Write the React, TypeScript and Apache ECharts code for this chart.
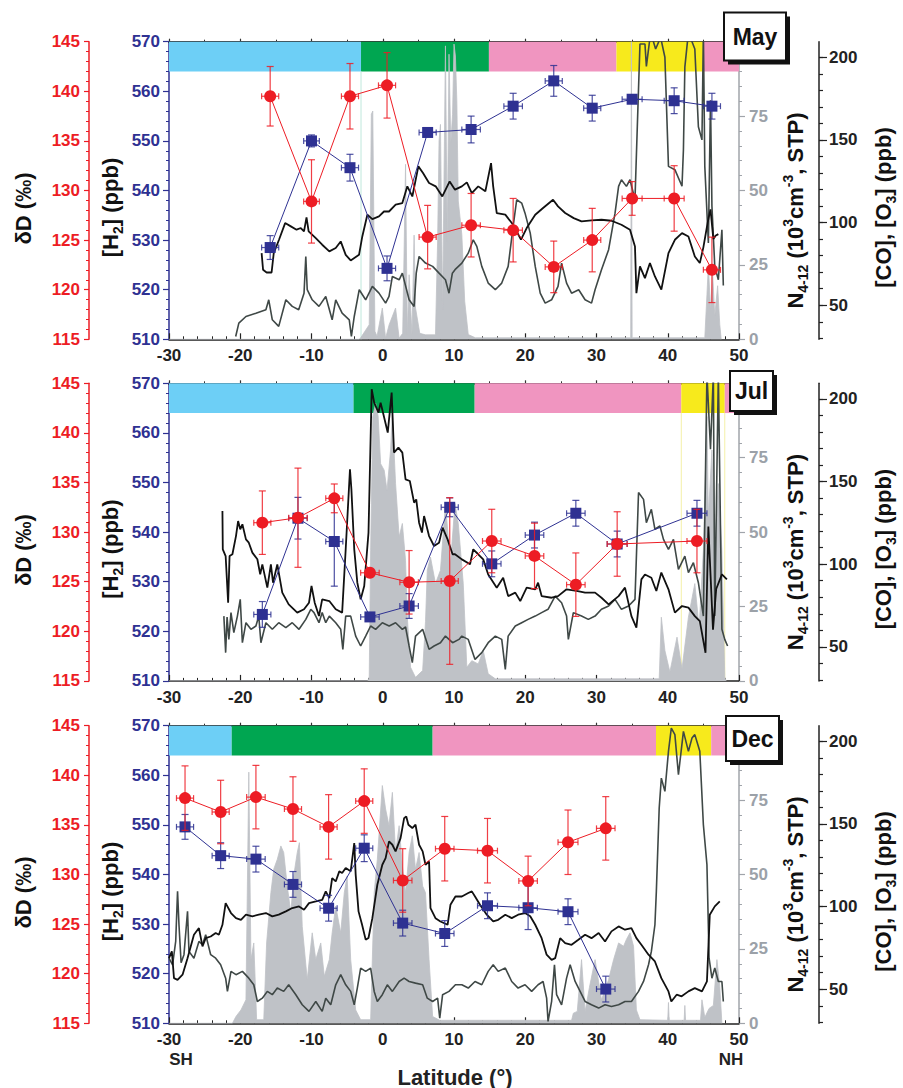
import React, { useEffect, useRef } from "react";
import * as echarts from "echarts";

const FONT = '"Liberation Sans", Arial, Helvetica, sans-serif';
const RED = "#ed1c24";
const BLUE = "#2e3192";
const NGREY = "#bfc2c7";
const O3C = "#3f4846";
const GREYLBL = "#9ba1a8";
const CYAN = "#6dcff6";
const GREEN = "#00a651";
const PINK = "#f095c0";
const YELLOW = "#f7ea1c";

// ================= MAY =================
const mayLat = [-15.8, -10.0, -4.6, 0.6, 6.3, 12.4, 18.3, 24.0, 29.4, 35.0, 40.9, 46.2];
const mayLatErr = [1.2, 1.1, 1.2, 1.2, 1.2, 1.3, 1.3, 1.2, 1.2, 1.4, 1.4, 1.2];
const mayDD = [139.5, 128.9, 139.5, 140.6, 125.3, 126.5, 126.0, 122.3, 125.0, 129.2, 129.2, 122.0];
const mayDDErr = [3.0, 4.2, 3.3, 3.3, 3.2, 3.2, 3.2, 2.6, 3.2, 1.7, 3.3, 3.3];
const mayH2 = [528.5, 550.0, 544.6, 524.3, 551.7, 552.3, 557.0, 562.1, 556.6, 558.4, 558.1, 557.0];
const mayH2Err = [2.4, 1.2, 2.7, 2.5, 0.5, 2.7, 2.6, 3.1, 2.6, 0.5, 2.6, 2.6];
const mayCO = [[-17.0,81.5],[-16.8,71.5],[-16.3,69.8],[-15.6,69.8],[-15.3,81.5],[-14.56,89.6],[-13.7,99.7],[-12.9,97.7],[-12.1,95.7],[-11.5,96.7],[-11.05,94.7],[-10.7,103.1],[-10.4,94.7],[-9.4,90.6],[-8.5,86.6],[-7.5,82.6],[-6.6,84.6],[-5.9,88.6],[-5.2,80.5],[-4.5,77.1],[-3.33,80.5],[-2.87,91.6],[-2.16,104.7],[-1.46,102.1],[-0.53,103.7],[0.17,106.7],[0.88,106.7],[1.81,110.8],[2.75,111.8],[3.45,121.9],[4.15,115.8],[5.0,134.0],[5.65,130.0],[6.5,123.9],[7.43,121.9],[8.36,115.8],[9.39,124.9],[10.14,119.9],[11.1,121.9],[11.8,124.3],[12.5,117.8],[13.4,121.9],[14.4,118.9],[15.2,136.0],[15.5,121.9],[16.0,105.7],[17.2,104.8],[18.3,98.7],[19.4,89.7],[20.2,96.7],[21.4,104.7],[22.5,108.8],[23.9,113.8],[24.6,109.8],[25.6,105.8],[26.8,102.7],[27.9,100.7],[29.3,101.3],[30.7,101.7],[32.1,101.1],[33.5,98.7],[34.7,95.7],[35.4,85.6],[35.6,57.3],[36.1,73.5],[36.8,66.4],[37.5,75.5],[38.2,67.4],[39.1,59.4],[40.1,81.5],[41.0,89.6],[42.0,93.6],[42.9,91.6],[43.8,79.5],[44.5,75.5],[45.0,85.0],[45.6,100],[46.0,108],[46.4,90],[46.7,92],[47.1,93]];
const mayO3 = [[-20.64,31.1],[-20.2,39.2],[-19.2,43.2],[-17.8,45.2],[-16.4,47.3],[-16.0,53.3],[-15.5,41.2],[-14.6,37.2],[-13.6,53.3],[-12.7,49.3],[-11.8,47.3],[-11.05,57.3],[-10.8,79.5],[-10.6,59.4],[-9.9,53.3],[-8.95,49.3],[-8.0,55.3],[-7.1,41.2],[-6.6,53.3],[-5.7,45.2],[-4.7,41.2],[-4.4,31.1],[-4.0,43.2],[-3.3,59.4],[-2.4,53.3],[-1.46,61.4],[-0.53,57.3],[0.4,51.3],[0.88,55.3],[1.35,67.4],[2.3,65.4],[2.75,69.4],[3.7,53.3],[4.4,49.3],[4.7,69.4],[5.1,79.5],[6.0,75.5],[7.0,73.5],[7.9,69.4],[8.8,65.4],[9.3,57.3],[9.77,69.4],[10.14,71.5],[11.1,75.5],[12.0,81.5],[12.7,89.6],[13.2,85.6],[13.9,73.5],[14.8,63.4],[15.8,59.4],[16.7,63.4],[17.6,73.5],[18.3,97.7],[18.8,113.8],[19.5,111.8],[19.97,105.7],[20.7,93.6],[21.4,73.5],[22.1,57.3],[22.8,51.3],[23.7,53.3],[24.6,61.4],[25.1,75.5],[25.8,63.4],[26.5,57.3],[27.5,59.4],[28.4,53.3],[29.3,51.3],[29.8,59.4],[30.7,71.5],[31.7,83.6],[32.6,105.7],[33.1,121.9],[33.5,125.9],[34.2,121.9],[34.7,125.9],[35.4,113.8],[36.1,208],[36.8,208],[37.0,194.5],[37.6,215],[38.3,205],[39.0,212],[39.6,200],[40.1,134],[41.0,132],[42.0,122],[42.2,144],[42.4,194],[42.9,215],[43.8,205],[44.3,158],[44.8,150],[45.0,215],[45.2,134],[45.7,87.6],[46.0,174],[46.2,110],[46.6,73.5],[47.1,65.4],[47.6,95.7],[47.8,62]];
const mayN = [[-30,0],[-3.3,0],[-3.1,0.5],[-1.9,4.9],[-1.6,75.6],[-1.4,76.7],[-1.1,2.7],[-0.8,1],[-0.06,10.5],[0.4,0.4],[0.9,4.9],[1.8,10.5],[2.3,0.4],[2.8,2],[3.2,58.8],[3.45,1.5],[3.7,21.7],[4.1,1.5],[4.4,35],[4.6,10.5],[5.2,2],[6,1.5],[7.4,1.5],[7.7,33],[7.9,66.6],[8.1,72.2],[8.4,10],[8.8,98.6],[9.05,33],[9.3,95.8],[9.55,66],[9.8,75.6],[10.0,99.2],[10.2,95.2],[10.4,80],[10.6,46.5],[11.1,35.2],[11.5,12.8],[12.0,1.6],[13,0.5],[34.8,0.5],[34.9,100],[35.0,0.5],[45.2,0.5],[45.5,15],[45.7,25],[46.0,10],[46.3,22],[46.6,8],[47.0,18],[47.3,5],[47.5,0]];
const mayZoneFrom = [-30, -3.05, 14.9, 32.8, 45.0];
const mayZoneTo = [-3.05, 14.9, 32.8, 45.0, 50];
const mayZoneColor = [CYAN, GREEN, PINK, YELLOW, PINK];
const mayGuides = [-3.05];

// ================= JUL =================
const julLat = [-16.9, -11.9, -6.8, -1.8, 3.7, 9.4, 15.3, 21.3, 27.1, 32.9, 44.1];
const julLatErr = [1.2, 1.3, 1.2, 1.3, 1.3, 1.2, 1.3, 1.3, 1.3, 1.4, 1.4];
const julDD = [130.95, 131.45, 133.4, 125.9, 124.94, 125.07, 129.1, 127.6, 124.7, 128.8, 129.1];
const julDDErr = [3.2, 5.0, 1.45, 0, 3.2, 8.4, 3.2, 3.3, 3.2, 3.25, 3.2];
const julH2 = [523.4, 542.8, 538.1, 522.9, 525.1, 545.0, 533.6, 539.4, 543.8, 537.6, 543.8];
const julH2Err = [2.6, 4.2, 9.0, 0.3, 2.5, 1.9, 2.6, 2.6, 2.6, 2.6, 2.6];
const julCO = [[-22.5,132.2],[-22.45,109],[-22.05,104.9],[-21.7,76.7],[-21.5,104.9],[-21.1,106],[-20.6,117],[-20.3,126.1],[-20.0,121.1],[-19.7,124.1],[-19.2,115],[-18.8,113],[-18.3,107],[-17.6,103],[-17.2,93.9],[-16.9,99.9],[-16.2,85.8],[-15.7,99.9],[-15.4,88.8],[-14.8,99.9],[-14.1,82.8],[-13.2,75.7],[-12.0,70.7],[-11.05,72.7],[-10.35,76.7],[-10.0,86.8],[-9.55,76.7],[-8.95,68.6],[-8.5,78.7],[-7.5,77.7],[-6.6,72.7],[-5.7,70.7],[-5.2,109],[-4.6,157.4],[-4.4,145.3],[-4.0,109],[-3.57,88.8],[-3.1,78.7],[-2.6,86.8],[-2.0,119.1],[-1.55,205.8],[-1.2,197.7],[-0.6,191.7],[-0.3,197.7],[0.03,191.7],[0.7,179.6],[1.25,203.8],[1.58,167.5],[2.2,170.5],[2.75,167.5],[3.2,151.3],[3.8,150.3],[4.4,137.2],[4.7,139.2],[5.1,125.1],[5.5,119.1],[5.8,129.1],[6.5,117],[7.2,111],[7.9,113],[8.4,122.1],[9.1,115],[9.8,106],[10.14,106],[11.1,102.9],[12.25,99.9],[12.7,109],[13.4,106],[14.1,102.9],[14.8,93.8],[16.0,85.8],[16.9,91.8],[17.6,80.7],[18.6,82.8],[19.3,77.7],[20.2,85.8],[21.4,84.8],[21.8,88.8],[22.3,80.7],[23.7,79.7],[24.6,80.7],[25.8,84.8],[27.2,83.8],[28.4,82.8],[29.8,82.8],[30.7,79.7],[31.7,75.7],[33.1,80.7],[34.0,85.8],[34.9,68.6],[35.6,61.6],[36.3,90.8],[36.8,93.8],[37.7,91.8],[38.4,83.8],[39.1,94.9],[40.1,84.8],[41.0,70.7],[42.0,74.7],[42.9,73.7],[43.8,68.6],[44.5,65.6],[45.3,46.4],[45.7,122.8],[46.35,60.4],[46.8,85],[47.6,93.8],[48.3,90.8]];
const julO3 = [[-22.3,68.6],[-22.05,46.5],[-21.85,68],[-21.6,54.5],[-21.3,70.7],[-20.9,58.6],[-20.4,68.6],[-20.0,78.7],[-19.7,52.5],[-19.2,64.6],[-18.5,60.6],[-17.8,62.6],[-17.4,68.6],[-17.1,52.5],[-16.4,64.6],[-15.5,60.6],[-14.6,64.6],[-13.6,61.6],[-12.7,64.6],[-11.75,60.6],[-10.8,66.6],[-10.1,72.7],[-9.65,70.7],[-8.95,64.6],[-8.5,70.7],[-8.0,64.6],[-7.5,68.6],[-6.6,64.6],[-5.9,60.6],[-5.6,48.5],[-5.2,68.6],[-4.5,68.6],[-3.8,56.5],[-3.1,50.5],[-2.4,56.5],[-1.7,62.6],[-1.0,60.6],[-0.06,64.6],[0.9,62.6],[1.8,64.6],[2.75,60.6],[3.2,62],[3.7,50.5],[4.15,40.4],[4.6,56.5],[5.6,60.6],[6.5,48.5],[7.2,50.5],[8.1,52.5],[8.8,56.5],[9.8,52.5],[10.7,54.5],[11.1,56.5],[12.0,54.5],[12.95,42.4],[13.9,46.5],[14.8,52.5],[15.8,56.5],[16.7,54.5],[17.2,36.4],[17.6,56.5],[18.6,62.6],[19.5,64.6],[20.4,66.6],[21.4,68.6],[22.3,70.7],[23.2,72.7],[24.2,80.7],[25.1,76.7],[25.8,68.6],[26.05,54.5],[26.75,70.7],[27.9,68.6],[28.85,66.6],[29.8,68.6],[30.7,72.7],[31.7,74.7],[32.6,78.7],[33.5,72.7],[34.5,74.7],[35.4,78.7],[35.9,143.3],[36.6,139.2],[37.0,125.1],[37.7,133.2],[38.2,121.1],[38.9,123.1],[39.4,115],[40.1,109],[40.8,115],[41.5,96.9],[42.4,104.9],[42.9,94.9],[43.6,100.9],[44.3,88.8],[45.0,68.6],[45.5,215],[46.0,169.5],[46.4,215],[46.6,68.6],[47.1,215],[47.6,60.6],[48.0,54.5],[48.4,50.5]];
const julN = [[-30,0],[-2.1,0],[-1.9,1.2],[-1.7,43.9],[-1.4,88.8],[-1.0,93.3],[-0.65,89],[-0.3,73],[0.2,70.8],[0.6,64],[1.1,77.6],[1.35,90],[1.8,66.3],[2.3,48.4],[2.75,52.9],[3.2,40.5],[3.45,21.4],[3.9,4.6],[4.6,1.2],[5.6,3.5],[6.0,20],[6.25,37.2],[6.7,41.6],[7.4,32.7],[8.1,37.2],[8.8,59.6],[9.5,39.4],[10.14,59.6],[10.6,52.9],[11.3,32.7],[11.8,4.6],[12.5,6.8],[13.4,5.7],[14.1,10.2],[14.8,2.4],[15.8,0.7],[38.8,0.7],[39.1,21.4],[39.6,10.2],[40.3,3],[41.3,14.7],[42.0,4],[42.9,21.4],[43.8,32.7],[44.4,18],[45.0,43.9],[45.5,88.8],[45.7,55.1],[46.2,77.6],[46.6,45],[47.1,66.3],[47.6,43.9],[48.0,1.2],[48.2,0]];
const julZoneFrom = [-30, -4.1, 12.9, 41.9, 48.0];
const julZoneTo = [-4.1, 12.9, 41.9, 48.0, 50];
const julZoneColor = [CYAN, GREEN, PINK, YELLOW, PINK];
const julGuides = [41.9, 48.0];

// ================= DEC =================
const decLat = [-27.75, -22.75, -17.8, -12.6, -7.6, -2.6, 2.8, 8.7, 14.7, 20.4, 26.0, 31.3];
const decLatErr = [1.2, 1.2, 1.3, 1.2, 1.2, 1.2, 1.3, 1.3, 1.4, 1.3, 1.4, 1.3];
const decDD = [137.7, 136.3, 137.8, 136.6, 134.8, 137.4, 129.4, 132.6, 132.4, 129.35, 133.25, 134.65];
const decDDErr = [3.25, 3.2, 3.2, 3.25, 3.25, 3.25, 3.2, 3.25, 3.25, 2.5, 3.25, 3.2];
const decH2 = [549.6, 543.8, 543.1, 538.0, 533.2, 545.3, 530.2, 528.1, 533.7, 533.3, 532.5, 516.9];
const decH2Err = [2.5, 2.6, 2.6, 2.6, 2.6, 2.7, 2.6, 2.6, 2.6, 4.4, 2.6, 2.6];
const decCO = [[-30,68.8],[-29.6,72.9],[-29.3,56.7],[-28.8,55.7],[-28.1,58.8],[-27.4,68.8],[-26.5,83],[-25.8,87],[-25.3,75.9],[-24.85,80.9],[-24.15,81.9],[-23.45,84],[-23.0,83],[-22.5,89],[-22.05,102.1],[-21.3,96.1],[-20.6,93],[-19.9,92],[-19.2,95.1],[-18.3,94.1],[-17.4,95.1],[-16.4,96.1],[-15.5,94.1],[-14.6,95.1],[-13.6,97.1],[-12.7,99.1],[-11.75,100.1],[-11.05,98.1],[-10.35,102.1],[-9.4,103.1],[-8.5,104.1],[-8.0,109.2],[-7.5,105.1],[-7.1,117.2],[-6.6,115.2],[-6.1,121.3],[-5.7,120.3],[-5.2,123.3],[-4.5,121.3],[-4.0,138.4],[-3.8,119.3],[-3.4,97.1],[-2.9,89],[-2.4,80],[-2.0,81],[-1.46,93],[-0.76,113.2],[-0.06,125.3],[0.4,129.3],[0.88,139.4],[1.35,137.4],[1.8,133.4],[2.5,141.4],[3.0,153.5],[3.3,154.5],[3.6,149.5],[4.15,147.5],[4.6,149.5],[5.1,137.4],[5.6,133.4],[6.0,125.3],[6.5,127.3],[6.7,99.1],[7.4,93],[8.1,91],[9.1,89],[9.5,101.1],[10.2,106.1],[11.1,106.1],[12.0,108.2],[12.5,109.2],[12.95,106.1],[13.65,101.1],[14.6,95.1],[15.5,91],[16.2,92],[17.2,95.1],[18.1,93],[19.0,95.1],[19.97,96.1],[20.7,94.1],[21.4,89],[22.3,80.9],[23.0,70.9],[23.7,67.8],[24.2,68.8],[24.9,80.9],[25.6,77.9],[26.5,76.9],[27.45,79.9],[28.4,83],[29.3,80.9],[30.3,84],[31.2,78.9],[32.1,85],[33.1,88],[34.0,86],[34.9,87],[35.6,80.9],[36.3,76.9],[37.3,70.9],[38.2,66.8],[39.1,56.7],[40.1,48.7],[40.5,42.6],[41.25,46.7],[41.95,45.7],[42.9,48.7],[43.8,50.7],[44.8,48.7],[45.5,54.7],[45.9,95.1],[46.6,100.1],[47.3,103.1]];
const decO3 = [[-30,68.8],[-29.5,64.8],[-29.06,78.9],[-28.8,109.2],[-28.6,89],[-28.3,66],[-27.9,70.9],[-27.4,97.1],[-27.2,72.9],[-26.5,68.8],[-25.8,78.9],[-25.3,76.9],[-24.85,83],[-24.15,70.9],[-23.45,68.8],[-22.75,64.8],[-22.05,56.7],[-21.8,48.7],[-21.3,60.8],[-20.6,58.8],[-19.7,60.8],[-18.8,56.7],[-18.1,52.7],[-17.6,42.6],[-16.9,44.6],[-16.2,48.7],[-15.5,46.7],[-14.8,50.7],[-13.9,48.7],[-13.2,52.7],[-12.2,46.7],[-11.3,40.6],[-10.35,36.6],[-9.4,42.6],[-8.5,36.6],[-8.0,44.6],[-7.3,40.6],[-6.6,52.7],[-5.9,58.8],[-5.2,52.7],[-4.5,48.7],[-4.0,40.6],[-3.57,50.7],[-3.1,62.8],[-2.4,60.8],[-1.7,62.8],[-1.2,48.7],[-0.76,42.6],[-0.06,46.7],[0.64,52.7],[1.35,48.7],[2.3,54.7],[3.0,56.7],[3.7,54.7],[4.6,53.7],[5.6,52.7],[6.25,44.6],[7.0,42.6],[7.7,44.6],[8.0,32.5],[8.4,46.7],[9.3,48.7],[10.2,52.7],[11.1,52.7],[12.0,50.7],[12.95,54.7],[13.9,52.7],[14.8,60.8],[15.5,64.8],[16.2,60.8],[17.2,62.8],[18.1,54.7],[19.0,50.7],[19.97,52.7],[20.9,48.7],[21.8,52.7],[22.5,54.7],[23.0,44.6],[23.2,30.5],[23.7,42.6],[24.1,64.8],[24.4,46.7],[25.1,40.6],[25.8,56.7],[26.3,64.8],[27.0,54.7],[27.7,48.7],[28.4,42.6],[29.3,40.6],[30.3,38.6],[31.2,40.6],[32.1,39.6],[33.1,40.6],[34.0,42.6],[34.9,42.6],[35.9,48.7],[36.6,54.7],[37.3,64.8],[37.7,72.9],[38.2,89],[38.4,109.2],[38.8,159.6],[39.1,177.7],[39.6,169.7],[40.1,193.9],[40.5,208],[41.0,204],[41.5,179.8],[42.2,206],[42.9,193.9],[43.4,201.9],[43.8,204],[44.5,193.9],[45.0,149.5],[45.5,125.3],[45.8,68.8],[46.2,56.7],[46.6,62.8],[47.1,54.7],[47.6,54.7],[47.8,42.6]];
const decN = [[-30,0],[-21.1,0],[-20.6,2.3],[-19.9,4.5],[-19.2,7.9],[-18.8,84.4],[-18.5,21.4],[-18.1,27],[-17.7,1.2],[-16.7,1.2],[-16.3,27],[-15.7,43.9],[-15.3,51.8],[-14.8,55.1],[-14.3,59.6],[-13.9,57.4],[-13.4,46.1],[-12.9,37.1],[-12.5,49.5],[-12.0,57.4],[-11.7,60.7],[-11.3,32.6],[-10.6,14.7],[-9.9,30.4],[-9.4,21.4],[-8.7,27],[-8.2,15.8],[-7.5,21.4],[-7.1,30.4],[-6.6,39.4],[-5.9,30.4],[-5.4,43.9],[-5.0,49.5],[-4.5,21.4],[-3.8,4.5],[-3.1,1.2],[-1.7,1.2],[-1.2,43.9],[-0.76,55.1],[-0.06,79.9],[0.4,72],[0.88,66.4],[1.35,77.6],[1.8,57.4],[2.3,66.4],[2.75,52.9],[3.2,43.9],[3.7,57.4],[4.15,63],[4.6,51.8],[5.1,57.4],[5.6,46.1],[6.0,43.9],[6.5,21.4],[7.0,2.3],[8,1],[26.5,1],[26.75,3.4],[27.3,4],[27.9,21.4],[28.4,4],[29.0,12],[29.8,21.4],[30.7,7.9],[31.7,14.7],[32.4,21.4],[33.1,27],[33.8,25.9],[34.2,28.2],[34.7,30.4],[35.2,25.9],[35.6,4.5],[36.1,1.2],[40.0,1],[40.1,7],[40.2,1],[42.3,1],[42.4,6],[42.5,1],[44.6,1],[44.8,7.9],[45.2,2],[45.8,5],[46.4,6],[46.9,21.4],[47.3,12.4],[47.6,0]];
const decZoneFrom = [-30, -21.2, 7.0, 38.35, 46.1];
const decZoneTo = [-21.2, 7.0, 38.35, 46.1, 50];
const decZoneColor = [CYAN, GREEN, PINK, YELLOW, PINK];
const decGuides: number[] = [];

const monthNames = ["May", "Jul", "Dec"];
const coMinorTicks = [30, 40, 50, 60, 70, 80, 90, 100, 110, 120, 130, 140, 150, 160, 170, 180, 190, 200];
const coMajorTicks = [50, 100, 150, 200];

const panels = [
  { lat: mayLat, latErr: mayLatErr, dd: mayDD, ddErr: mayDDErr, h2: mayH2, h2Err: mayH2Err, co: mayCO, o3: mayO3, n: mayN, zf: mayZoneFrom, zt: mayZoneTo, zc: mayZoneColor, guides: mayGuides },
  { lat: julLat, latErr: julLatErr, dd: julDD, ddErr: julDDErr, h2: julH2, h2Err: julH2Err, co: julCO, o3: julO3, n: julN, zf: julZoneFrom, zt: julZoneTo, zc: julZoneColor, guides: julGuides },
  { lat: decLat, latErr: decLatErr, dd: decDD, ddErr: decDDErr, h2: decH2, h2Err: decH2Err, co: decCO, o3: decO3, n: decN, zf: decZoneFrom, zt: decZoneTo, zc: decZoneColor, guides: decGuides },
];

const gridTops = [41.7, 383.3, 725.7];
const gridH = 297.6;
const boxes = [
  [724, 12.5, 62, 48],
  [730, 371, 43, 40],
  [726, 716, 53, 45],
];

function errRender(color: string) {
  return (params: any, api: any) => {
    const x = api.value(0), y = api.value(1), ex = api.value(2), ey = api.value(3);
    const c = api.coord([x, y]);
    const l = api.coord([x - ex, y]);
    const r = api.coord([x + ex, y]);
    const st = { stroke: color, lineWidth: 1.2, opacity: 0.85 };
    const ch: any[] = [
      { type: "line", shape: { x1: l[0], y1: c[1], x2: r[0], y2: c[1] }, style: st },
      { type: "line", shape: { x1: l[0], y1: c[1] - 3, x2: l[0], y2: c[1] + 3 }, style: st },
      { type: "line", shape: { x1: r[0], y1: c[1] - 3, x2: r[0], y2: c[1] + 3 }, style: st },
    ];
    if (ey > 0) {
      const t = api.coord([x, y + ey]);
      const b = api.coord([x, y - ey]);
      ch.push({ type: "line", shape: { x1: c[0], y1: t[1], x2: c[0], y2: b[1] }, style: st });
      ch.push({ type: "line", shape: { x1: c[0] - 3.5, y1: t[1], x2: c[0] + 3.5, y2: t[1] }, style: st });
      ch.push({ type: "line", shape: { x1: c[0] - 3.5, y1: b[1], x2: c[0] + 3.5, y2: b[1] }, style: st });
    }
    return { type: "group", children: ch };
  };
}

const lblStyle = { fontSize: 17, fontWeight: "bold" as const, fontFamily: FONT };

function buildOption() {
  const grid: any[] = [];
  const xAxis: any[] = [];
  const yAxis: any[] = [];
  const series: any[] = [];
  const graphic: any[] = [];

  panels.forEach((p, i) => {
    grid.push({ left: 169, width: 570, top: gridTops[i], height: gridH });
    const xb = 2 * i;
    const yb = 5 * i;
    xAxis.push({
      gridIndex: i, type: "value", min: -30, max: 50, interval: 10, position: "bottom",
      axisLine: { onZero: false, lineStyle: { color: "#222", width: 1.5 } },
      axisTick: { inside: true, length: 6, lineStyle: { color: "#222", width: 1.2 } },
      minorTick: { show: true, splitNumber: 5, length: 3, lineStyle: { color: "#222", width: 1 } },
      axisLabel: { ...lblStyle, color: "#222", margin: 8 },
      splitLine: { show: false },
    });
    xAxis.push({
      gridIndex: i, type: "value", min: -30, max: 50, interval: 10, position: "top",
      axisLine: { onZero: false, lineStyle: { color: "#333", width: 2 } },
      axisTick: { inside: false, length: 3, lineStyle: { color: "#333", width: 1.2 } },
      minorTick: { show: true, splitNumber: 2, length: 2, lineStyle: { color: "#333", width: 1 } },
      axisLabel: { show: false },
      splitLine: { show: false },
    });
    yAxis.push({
      gridIndex: i, type: "value", min: 510, max: 570, interval: 10, position: "left", offset: 0,
      axisLine: { show: true, onZero: false, lineStyle: { color: BLUE, width: 1.5 } },
      axisTick: { show: true, inside: false, length: 6, lineStyle: { color: BLUE, width: 1.2 } },
      minorTick: { show: true, splitNumber: 5, length: 3, lineStyle: { color: BLUE, width: 1 } },
      axisLabel: { ...lblStyle, color: BLUE, margin: 9 },
      splitLine: { show: false },
    });
    yAxis.push({
      gridIndex: i, type: "value", min: 115, max: 145, interval: 5, position: "left", offset: 80,
      axisLine: { show: true, onZero: false, lineStyle: { color: RED, width: 1.5 } },
      axisTick: { show: true, inside: false, length: 5, lineStyle: { color: RED, width: 1.2 } },
      minorTick: { show: true, splitNumber: 5, length: 3, lineStyle: { color: RED, width: 1 } },
      axisLabel: { ...lblStyle, color: RED, margin: 9 },
      splitLine: { show: false },
    });
    yAxis.push({
      gridIndex: i, type: "value", min: 0, max: 100, interval: 25, position: "right", offset: 0,
      axisLine: { show: true, onZero: false, lineStyle: { color: "#a0a4aa", width: 1.5 } },
      axisTick: { show: true, inside: false, length: 6, lineStyle: { color: "#a0a4aa", width: 1.2 } },
      minorTick: { show: true, splitNumber: 5, length: 3, lineStyle: { color: "#a0a4aa", width: 1 } },
      axisLabel: { ...lblStyle, color: GREYLBL, margin: 10, formatter: (v: number) => (v === 100 ? "" : String(v)) },
      splitLine: { show: false },
    });
    yAxis.push({
      gridIndex: i, type: "value", min: 29.4, max: 209.4, position: "right", offset: 80,
      axisLine: { show: true, onZero: false, lineStyle: { color: "#222", width: 1.5 } },
      axisTick: { show: true, inside: false, length: 4, customValues: coMinorTicks, lineStyle: { color: "#222", width: 1.2 } },
      axisLabel: { show: false },
      splitLine: { show: false },
    });
    yAxis.push({
      gridIndex: i, type: "value", min: 29.4, max: 209.4, position: "right", offset: 80,
      axisLine: { show: false, onZero: false },
      axisTick: { show: true, inside: false, length: 8, customValues: coMajorTicks, lineStyle: { color: "#222", width: 1.2 } },
      axisLabel: { ...lblStyle, color: "#222", margin: 10, customValues: coMajorTicks },
      splitLine: { show: false },
    });

    series.push({
      type: "custom", xAxisIndex: xb, yAxisIndex: yb, z: 1, silent: true,
      data: p.zf.map((f, k) => [f, p.zt[k]]),
      renderItem: (params: any, api: any) => {
        const a = api.coord([api.value(0), 570]);
        const b = api.coord([api.value(1), 564]);
        return { type: "rect", shape: { x: a[0], y: a[1], width: b[0] - a[0], height: b[1] - a[1] }, style: { fill: p.zc[params.dataIndex] } };
      },
    });
    if (p.guides.length) {
      series.push({
        type: "custom", xAxisIndex: xb, yAxisIndex: yb, z: 1, silent: true,
        data: p.guides.map((g) => [g, 510]),
        renderItem: (params: any, api: any) => {
          const a = api.coord([api.value(0), 510]);
          const b = api.coord([api.value(0), 564]);
          const col = i === 0 ? "#bfe8dc" : "#f4f0a8";
          return { type: "line", shape: { x1: a[0], y1: a[1], x2: b[0], y2: b[1] }, style: { stroke: col, lineWidth: 1 } };
        },
      });
    }
    series.push({
      type: "line", xAxisIndex: xb, yAxisIndex: yb + 2, z: 2, data: p.n, showSymbol: false, symbol: "none",
      lineStyle: { color: NGREY, width: 0.8 }, areaStyle: { color: NGREY, opacity: 1 }, silent: true,
    });
    series.push({
      type: "line", xAxisIndex: xb, yAxisIndex: yb + 3, z: 3, data: p.o3, symbol: "none",
      lineStyle: { color: O3C, width: 1.6 }, silent: true,
    });
    series.push({
      type: "line", xAxisIndex: xb, yAxisIndex: yb + 3, z: 4, data: p.co, symbol: "none",
      lineStyle: { color: "#111", width: 1.8 }, silent: true,
    });
    series.push({
      type: "custom", xAxisIndex: xb, yAxisIndex: yb, z: 5, silent: true,
      encode: { x: 0, y: 1 },
      data: p.lat.map((la, k) => [la, p.h2[k], p.latErr[k], p.h2Err[k]]),
      renderItem: errRender(BLUE),
    });
    series.push({
      type: "line", xAxisIndex: xb, yAxisIndex: yb, z: 6,
      data: p.lat.map((la, k) => [la, p.h2[k]]),
      symbol: "rect", symbolSize: 11, itemStyle: { color: BLUE }, lineStyle: { color: BLUE, width: 1 },
    });
    series.push({
      type: "custom", xAxisIndex: xb, yAxisIndex: yb + 1, z: 7, silent: true,
      encode: { x: 0, y: 1 },
      data: p.lat.map((la, k) => [la, p.dd[k], p.latErr[k], p.ddErr[k]]),
      renderItem: errRender(RED),
    });
    series.push({
      type: "line", xAxisIndex: xb, yAxisIndex: yb + 1, z: 8,
      data: p.lat.map((la, k) => [la, p.dd[k]]),
      symbol: "circle", symbolSize: 12, itemStyle: { color: RED }, lineStyle: { color: RED, width: 1 },
    });

    const [bx, by, bw, bh] = boxes[i];
    graphic.push({ type: "rect", z: 100, shape: { x: bx + 4, y: by + 4, width: bw, height: bh }, style: { fill: "#111" } });
    graphic.push({ type: "rect", z: 101, shape: { x: bx, y: by, width: bw, height: bh }, style: { fill: "#fff", stroke: "#111", lineWidth: 2 } });
    graphic.push({
      type: "text", z: 102, x: bx + bw / 2, y: by + bh / 2,
      style: { text: monthNames[i], fontSize: 23, fontWeight: "bold", fontFamily: FONT, fill: "#111", textAlign: "center", textVerticalAlign: "middle" },
    });

    const cy = gridTops[i] + gridH / 2 + 18;
    const rich = {
      b: { fontSize: 22, fontWeight: "bold", fontFamily: FONT, fill: "#111", lineHeight: 29 },
      sub: { fontSize: 14, fontWeight: "bold", fontFamily: FONT, fill: "#111", lineHeight: 14, verticalAlign: "bottom" },
      sup: { fontSize: 14, fontWeight: "bold", fontFamily: FONT, fill: "#111", lineHeight: 14, verticalAlign: "top" },
    };
    graphic.push({
      type: "text", z: 50, x: 23, y: cy, rotation: Math.PI / 2,
      style: { text: "{b|\u03b4D (\u2030)}", rich, textAlign: "center", textVerticalAlign: "middle" },
    });
    graphic.push({
      type: "text", z: 50, x: 110, y: cy - 1, rotation: Math.PI / 2,
      style: { text: "{b|[H}{sub|2}{b|] (ppb)}", rich, textAlign: "center", textVerticalAlign: "middle" },
    });
    graphic.push({
      type: "text", z: 50, x: 795, y: cy + 2, rotation: Math.PI / 2,
      style: { text: "{b|N}{sub|4-12}{b| (10}{sup|3}{b|cm}{sup|-3}{b|, STP)}", rich, textAlign: "center", textVerticalAlign: "middle" },
    });
    graphic.push({
      type: "text", z: 50, x: 883, y: cy - 1, rotation: Math.PI / 2,
      style: { text: "{b|[CO], [O}{sub|3}{b|] (ppb)}", rich, textAlign: "center", textVerticalAlign: "middle" },
    });
  });

  graphic.push({ type: "text", x: 181, y: 1059, style: { text: "SH", fontSize: 17, fontWeight: "bold", fontFamily: FONT, fill: "#222", textAlign: "center", textVerticalAlign: "middle" } });
  graphic.push({ type: "text", x: 731, y: 1059, style: { text: "NH", fontSize: 17, fontWeight: "bold", fontFamily: FONT, fill: "#222", textAlign: "center", textVerticalAlign: "middle" } });
  graphic.push({ type: "text", x: 455, y: 1077, style: { text: "Latitude (\u00b0)", fontSize: 22, fontWeight: "bold", fontFamily: FONT, fill: "#222", textAlign: "center", textVerticalAlign: "middle" } });

  return { animation: false, backgroundColor: "#fff", grid, xAxis, yAxis, series, graphic };
}

export default function App() {
  const ref = useRef<HTMLDivElement>(null);
  useEffect(() => {
    const chart = echarts.init(ref.current as HTMLDivElement, null, { renderer: "svg" });
    chart.setOption(buildOption() as any);
    return () => chart.dispose();
  }, []);
  return <div ref={ref} style={{ position: "absolute", left: 0, top: 0, width: 903, height: 1088 }} />;
}
